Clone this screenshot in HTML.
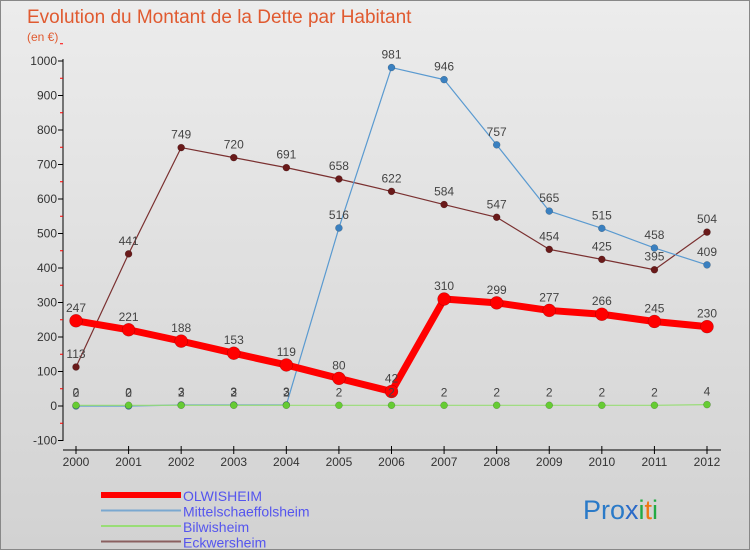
<!DOCTYPE html>
<html><head><meta charset="utf-8"><style>
body{margin:0}
#c{width:750px;height:550px;position:relative;background:linear-gradient(#ececec,#d2d2d2);font-family:"Liberation Sans",sans-serif;overflow:hidden;box-sizing:border-box;border:1px solid #888}
</style></head><body>
<div id="c">
<svg id="s" width="750" height="550"></svg>
</div>
<script>
const years=["2000","2001","2002","2003","2004","2005","2006","2007","2008","2009","2010","2011","2012"];
const olw=[247,221,188,153,119,80,42,310,299,277,266,245,230];
const mit=[0,0,3,3,3,516,981,946,757,565,515,458,409];
const bil=[2,2,2,2,2,2,2,2,2,2,2,2,4];
const eck=[113,441,749,720,691,658,622,584,547,454,425,395,504];
const yTicks=[-100,0,100,200,300,400,500,600,700,800,900,1000];
const NS="http://www.w3.org/2000/svg";
const s=document.getElementById('s');
const X=i=>75+i*(706-75)/12;
const Y=v=>405-v*0.345;
function el(t,a,p){const e=document.createElementNS(NS,t);for(const k in a)e.setAttribute(k,a[k]);(p||s).appendChild(e);return e;}
let t=el('text',{x:26,y:22,fill:'#e05a30','font-size':19});t.textContent='Evolution du Montant de la Dette par Habitant';

t=el('text',{x:26,y:40,fill:'#e05a30','font-size':12});t.textContent='(en €)';

let ax=el('line',{x1:62,y1:58,x2:62,y2:440,stroke:'#000'});

yTicks.forEach(v=>{el('line',{x1:57,y1:Y(v),x2:62,y2:Y(v),stroke:'#000'});
 el('line',{x1:59,y1:Y(v+50),x2:62,y2:Y(v+50),stroke:'red'});
 const l=el('text',{x:56,y:Y(v)+4,'text-anchor':'end','font-size':12,fill:'#333'});l.textContent=v;
 });
ax=el('line',{x1:62,y1:449,x2:720,y2:449,stroke:'#000'});

years.forEach((y,i)=>{el('line',{x1:X(i),y1:445,x2:X(i),y2:453,stroke:'#000'});
 const l=el('text',{x:X(i),y:465,'text-anchor':'middle','font-size':12,fill:'#333'});l.textContent=y;
 });
function series(d,col,w,r,name,fillc){
 const g=el('g',{});
 el('polyline',{points:d.map((v,i)=>X(i)+','+Y(v)).join(' '),fill:'none',stroke:col,'stroke-width':w,'stroke-linejoin':'round'},g);
 d.forEach((v,i)=>{const c=el('circle',{cx:X(i),cy:Y(v),r:r,fill:fillc,stroke:'rgba(0,0,0,0.3)','stroke-width':0.5},g);
  
  const l=el('text',{x:X(i),y:Y(v)-9,'text-anchor':'middle','font-size':12,fill:'#444'},g);l.textContent=v;
  });
}
series(eck,'#7a3030',1.2,3.5,'eckwersheim','#6a1a1a');
series(mit,'#5a9ad0',1.2,3.5,'mittelschaeffolsheim','#3a80c0');
series(olw,'#ff0000',7,6.5,'olwisheim','#ff0000');
series(bil,'#99dd77',1.2,3.5,'bilwisheim','#66cc33');
const leg=[['OLWISHEIM','#f00',6],['Mittelschaeffolsheim','#7aa8d0',2],['Bilwisheim','#99dd77',2],['Eckwersheim','#8a6060',2]];
leg.forEach((L,i)=>{const g=el('g',{});
 const y=494+i*15.5;el('line',{x1:100,y1:y,x2:180,y2:y,stroke:L[1],'stroke-width':L[2]},g);
 const tx=el('text',{x:182,y:y+6,'font-size':14,fill:'#5555ee'},g);tx.textContent=L[0];});
const lg=el('text',{x:582,y:518,'font-size':27});
[['Pro','#2a7ac8'],['x','#2a6ac8'],['i','#22aa44'],['t','#ee7711'],['i','#22aa44']].forEach(p=>{const ts=el('tspan',{fill:p[1]},lg);ts.textContent=p[0];});
</script>
</body></html>
